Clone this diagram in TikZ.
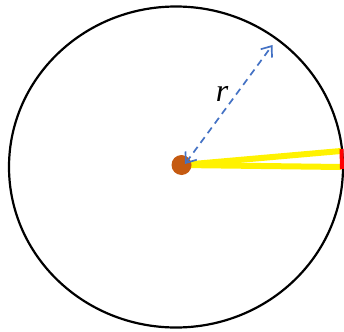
\documentclass[tikz,border=0pt]{standalone}
\usepackage{fontspec}
\setmainfont{Liberation Serif}
\usetikzlibrary{arrows.meta}
\definecolor{dotc}{HTML}{C55A11}
\definecolor{bluec}{HTML}{4472C4}
\tikzset{
  rim/.style={draw=black,line width=2.2pt},
  beam/.style={draw=yellow,line width=6pt},
  arc red/.style={draw=red,line width=4pt},
  radius arrow/.style={draw=bluec,line width=1.7pt,dash pattern=on 7pt off 5pt,
    {Straight Barb[length=9pt,width=14pt,line width=1.7pt]}-{Straight Barb[length=9pt,width=14pt,line width=1.7pt]}},
  centre/.style={circle,fill=dotc,inner sep=0pt,minimum size=20pt}
}
\begin{document}
\begin{tikzpicture}[x=1pt,y=-1pt]
\useasboundingbox (0,0) rectangle (344,331);
\draw[rim] (176,167) ellipse [x radius=167, y radius=160.5];
\coordinate (c) at (181.5,165);
\coordinate (b1) at (341,151);
\coordinate (b2) at (341,167);
\draw[beam] (c) -- (b1);
\draw[beam] (c) -- (b2);
\draw[arc red] (341.5,149) -- (342,169);
\node[centre] (o) at (c) {};
\coordinate (t0) at (185,164);
\coordinate (t1) at (272.5,45);
\draw[radius arrow] (t0) -- (t1);
\node[font=\fontsize{32}{32}\selectfont\itshape,inner sep=0pt] (r) at (222,93.5) {r};
\end{tikzpicture}
\end{document}
